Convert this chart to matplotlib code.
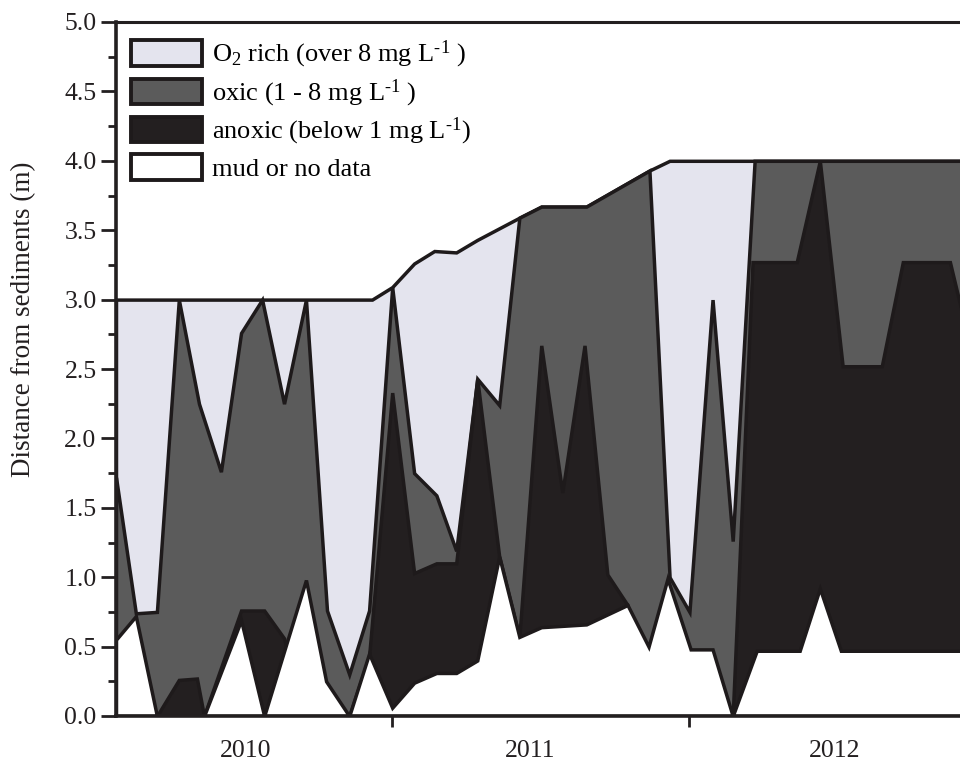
import matplotlib
matplotlib.use("Agg")
import matplotlib.pyplot as plt
from matplotlib.patches import Patch
from matplotlib.ticker import MultipleLocator, FixedLocator, NullFormatter, FixedFormatter, FormatStrFormatter

plt.rcParams['font.family'] = ['Liberation Serif', 'DejaVu Serif']
plt.rcParams['mathtext.fontset'] = 'custom'
plt.rcParams['mathtext.rm'] = 'Liberation Serif'
plt.rcParams['mathtext.it'] = 'Liberation Serif:italic'

# ---- data (decimal year, distance from sediments in m) ----
# top of water column (top of O2-rich layer)
top_x = [2010.068, 2010.932, 2011.000, 2011.074, 2011.142, 2011.216, 2011.287,
         2011.429, 2011.503, 2011.655, 2011.868, 2011.936, 2013.000]
top_y = [3.00, 3.00, 3.09, 3.26, 3.35, 3.34, 3.43, 3.59, 3.67, 3.67, 3.93, 4.00, 4.00]

# top of oxic layer (1-8 mg/L)
oxic_x = [2010.068, 2010.135, 2010.206, 2010.280, 2010.348, 2010.422, 2010.490,
          2010.561, 2010.635, 2010.709, 2010.780, 2010.855, 2010.922, 2011.000,
          2011.074, 2011.149, 2011.216, 2011.287, 2011.361, 2011.429, 2011.503,
          2011.655, 2011.868, 2011.936, 2012.003, 2012.081, 2012.149, 2012.223,
          2013.000]
oxic_y = [1.72, 0.74, 0.75, 3.00, 2.25, 1.76, 2.76, 3.00, 2.25, 3.00, 0.76, 0.30,
          0.76, 3.09, 1.75, 1.59, 1.19, 2.43, 2.24, 3.59, 3.67, 3.67, 3.93, 1.00,
          0.75, 3.00, 1.26, 4.00, 4.00]

# top of anoxic layer (below 1 mg/L)
anox_x = [2010.068, 2010.206, 2010.280, 2010.341, 2010.365, 2010.490, 2010.568,
          2010.635, 2010.709, 2010.855, 2010.922, 2011.000, 2011.074, 2011.149,
          2011.216, 2011.287, 2011.361, 2011.429, 2011.503, 2011.574, 2011.649,
          2011.726, 2011.794, 2011.868, 2012.149, 2012.216, 2012.365, 2012.443,
          2012.520, 2012.652, 2012.723, 2012.882, 2012.966]
anox_y = [0.00, 0.00, 0.26, 0.27, 0.00, 0.76, 0.76, 0.56, 0.00, 0.00, 0.43, 2.33,
          1.03, 1.10, 1.10, 2.43, 1.15, 0.57, 2.67, 1.61, 2.67, 1.02, 0.80, 0.00,
          0.00, 3.27, 3.27, 4.00, 2.52, 2.52, 3.27, 3.27, 2.52]

# top of mud / no data
mud_x = [2010.068, 2010.135, 2010.206, 2010.365, 2010.490, 2010.568, 2010.709,
         2010.777, 2010.855, 2010.922, 2011.000, 2011.074, 2011.149, 2011.216,
         2011.287, 2011.361, 2011.429, 2011.503, 2011.655, 2011.794, 2011.865,
         2011.929, 2012.007, 2012.081, 2012.149, 2012.230, 2012.375, 2012.443,
         2012.514, 2013.000]
mud_y = [0.55, 0.72, 0.00, 0.00, 0.69, 0.00, 0.98, 0.25, 0.00, 0.45, 0.06, 0.24,
         0.31, 0.31, 0.40, 1.15, 0.57, 0.64, 0.66, 0.80, 0.50, 0.99, 0.48, 0.48,
         0.00, 0.47, 0.47, 0.92, 0.47, 0.47]

year_labels = ['2010', '2011', '2012']
year_label_pos = [2010.507, 2011.466, 2012.493]
year_bounds = [2011.0, 2012.0]

labels = ['O$_2$ rich (over 8 mg L$^{\u20101}$ )', 'oxic (1 - 8 mg L$^{\u20101}$ )',
          'anoxic (below 1 mg L$^{\u20101}$)', 'mud or no data']
colors = ['#e4e4ee', '#5b5b5b', '#231f20', '#ffffff']
edge = '#1e1a1b'
ink = '#231f20'

fig = plt.figure(figsize=(9.6, 7.72), dpi=100)
ax = fig.add_axes([116 / 960, 56 / 772, 1 - 116 / 960, 694 / 772])

layers = [(top_x, top_y), (oxic_x, oxic_y), (anox_x, anox_y), (mud_x, mud_y)]
for (xs, ys), c in zip(layers, colors):
    ax.fill_between(xs, ys, 0, facecolor=c, edgecolor=edge, linewidth=2.5,
                    joinstyle='miter', zorder=2)

ax.set_xlim(2010.068, 2012.916)
ax.set_ylim(0, 5.0)

# y axis
ax.yaxis.set_major_locator(MultipleLocator(0.5))
ax.yaxis.set_minor_locator(MultipleLocator(0.25))
ax.yaxis.set_major_formatter(FormatStrFormatter('%.1f'))
ax.tick_params(axis='y', which='major', direction='out', length=11, width=2,
               labelsize=18.5, pad=3, colors=ink, labelcolor=ink)
ax.tick_params(axis='y', which='minor', direction='out', length=6, width=2,
               colors=ink)

# x axis
ax.xaxis.set_major_locator(FixedLocator(year_bounds))
ax.xaxis.set_major_formatter(NullFormatter())
ax.xaxis.set_minor_locator(FixedLocator(year_label_pos))
ax.xaxis.set_minor_formatter(FixedFormatter(year_labels))
ax.tick_params(axis='x', which='major', direction='out', length=8, width=2,
               colors=ink)
ax.tick_params(axis='x', which='minor', length=0, labelsize=18.5, pad=17,
               labelcolor=ink)

ax.set_ylabel('Distance from sediments (m)', fontsize=19.5, color=ink, va='center')
ax.yaxis.set_label_coords(-0.110, 0.571)

for s in ['left', 'bottom']:
    ax.spines[s].set_linewidth(2.6)
    ax.spines[s].set_color(ink)
    ax.spines[s].set_zorder(5)
ax.spines['top'].set_linewidth(2.2)
ax.spines['top'].set_color(ink)
ax.spines['top'].set_zorder(5)
ax.spines['right'].set_visible(False)

handles = [Patch(facecolor=c, edgecolor=edge, linewidth=2.8) for c in colors]
ax.legend(handles, labels, loc='upper left', bbox_to_anchor=(15 / 844, 1 - 17 / 694),
          frameon=False, fontsize=19, handlelength=2.69, handleheight=1.1,
          handletextpad=0.38, labelspacing=0.27, borderpad=0, borderaxespad=0)

fig.savefig('out.png', dpi=100)
